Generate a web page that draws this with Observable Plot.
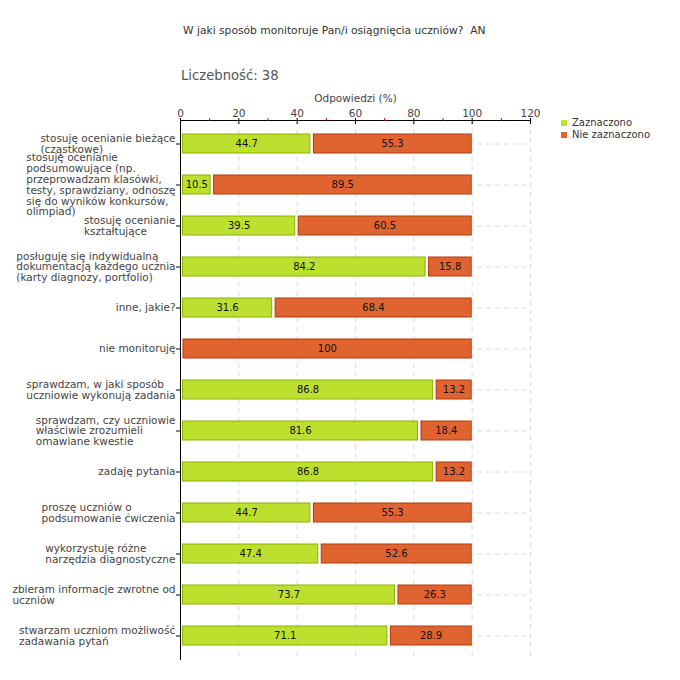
<!DOCTYPE html>
<html>
<head>
<meta charset="utf-8">
<script src="https://cdn.jsdelivr.net/npm/d3@7"></script>
<script src="https://cdn.jsdelivr.net/npm/@observablehq/plot@0.6"></script>
<style>
  body { margin: 0; background: #fff; font-family: "DejaVu Sans", sans-serif; }
  #wrap { position: relative; width: 680px; height: 680px; overflow: hidden; }
  #chart { position: absolute; left: 0; top: 0; }
  .title { position: absolute; left: 183px; top: 24px; font-size: 10.7px; color: #333; white-space: nowrap; }
  .count { position: absolute; left: 181px; top: 68px; font-size: 13.2px; color: #555; white-space: nowrap; }
  .legend { position: absolute; left: 561px; top: 117px; font-size: 10px; color: #333; }
  .legend div { height: 12px; line-height: 12px; white-space: nowrap; }
  .legend span.sw { display: inline-block; width: 6px; height: 6px; margin-right: 5px; vertical-align: 0px; }
</style>
</head>
<body>
<div id="wrap">
  <div id="chart"></div>
  <div class="title">W jaki sposób monitoruje Pan/i osiągnięcia uczniów?&nbsp; AN</div>
  <div class="count">Liczebność:&nbsp;38</div>
  <div class="legend" id="legend"></div>
</div>
<script>
const categories = [
  "stosuję ocenianie bieżące\n(cząstkowe)",
  "stosuję ocenianie\npodsumowujące (np.\nprzeprowadzam klasówki,\ntesty, sprawdziany, odnoszę\nsię do wyników konkursów,\nolimpiad)",
  "stosuję ocenianie\nkształtujące",
  "posługuję się indywidualną\ndokumentacją każdego ucznia\n(karty diagnozy, portfolio)",
  "inne, jakie?",
  "nie monitoruję",
  "sprawdzam, w jaki sposób\nuczniowie wykonują zadania",
  "sprawdzam, czy uczniowie\nwłaściwie zrozumieli\nomawiane kwestie",
  "zadaję pytania",
  "proszę uczniów o\npodsumowanie ćwiczenia",
  "wykorzystuję różne\nnarzędzia diagnostyczne",
  "zbieram informacje zwrotne od\nuczniów",
  "stwarzam uczniom możliwość\nzadawania pytań"
];
const zaznaczono =    [44.7, 10.5, 39.5, 84.2, 31.6, 0, 86.8, 81.6, 86.8, 44.7, 47.4, 73.7, 71.1];
const nieZaznaczono = [55.3, 89.5, 60.5, 15.8, 68.4, 100, 13.2, 18.4, 13.2, 55.3, 52.6, 26.3, 28.9];
const seriesNames = ["Zaznaczono", "Nie zaznaczono"];
const seriesFill = ["#bde02f", "#e06430"];
const seriesStroke = ["#8db000", "#b03a0c"];
const xTicks = [0, 20, 40, 60, 80, 100, 120];
const xMinorTicks = [10, 30, 50, 70, 90, 110];
const axisTitle = "Odpowiedzi (%)";

const greenRows = categories.map((c, i) => ({cat: c, x1: 0, x2: zaznaczono[i], v: zaznaczono[i]}));
const orangeRows = categories.map((c, i) => ({cat: c, x1: zaznaczono[i], x2: zaznaczono[i] + nieZaznaczono[i], v: nieZaznaczono[i]}));
const fmt = v => (Number.isInteger(v) ? String(v) : v.toFixed(1));

const chart = Plot.plot({
  width: 680,
  height: 680,
  marginLeft: 180,
  marginRight: 150,
  marginTop: 120,
  marginBottom: 20,
  style: {fontFamily: "DejaVu Sans", fontSize: "10px", color: "#333", background: "transparent", overflow: "visible"},
  x: {domain: [0, 120]},
  y: {domain: categories, paddingInner: 0.53, paddingOuter: 0.265},
  marks: [
    Plot.ruleX(xTicks.slice(1), {stroke: "#dcdcdc", strokeDasharray: "5,4"}),
    Plot.ruleY(categories, {y: d => d, stroke: "#dcdcdc", strokeDasharray: "5,4"}),
    Plot.barX(greenRows.filter(d => d.v > 0), {x1: "x1", x2: "x2", y: "cat", fill: seriesFill[0], stroke: seriesStroke[0], strokeWidth: 1, insetLeft: 2.5, insetRight: 0.5}),
    Plot.barX(orangeRows, {x1: "x1", x2: "x2", y: "cat", fill: seriesFill[1], stroke: seriesStroke[1], strokeWidth: 1, insetLeft: 3, insetRight: 0.5}),
    Plot.text(greenRows.filter(d => d.v > 0), {x: d => (d.x1 + d.x2) / 2, y: "cat", text: d => fmt(d.v), fill: "#111", fontSize: 10, dx: 1}),
    Plot.text(orangeRows.filter(d => d.v > 0), {x: d => (d.x1 + d.x2) / 2, y: "cat", text: d => fmt(d.v), fill: "#111", fontSize: 10, dx: 1}),
    Plot.ruleX([0], {stroke: "#000"}),
    Plot.frame({anchor: "top", stroke: "#000"}),
    Plot.axisX({anchor: "top", ticks: xTicks, tickSize: 0, tickPadding: 4, label: axisTitle, labelAnchor: "center", labelOffset: 26, labelArrow: "none", fill: "#444", fontSize: 10.5}),
    Plot.axisX({anchor: "top", ticks: xTicks, tickSize: 6, dy: 3, tickFormat: () => "", label: null, stroke: "#000"}),
    Plot.axisX({anchor: "top", ticks: xMinorTicks, tickSize: 3, tickFormat: () => "", label: null, stroke: "#e00000"}),
    Plot.axisY({anchor: "left", tickSize: 4, tickFormat: () => "", label: null, stroke: "#000"}),
    Plot.text(categories, {y: d => d, text: d => d, frameAnchor: "left", textAnchor: "start", lineHeight: 1.03, fontSize: 10.5, fill: "#444", className: "catlabel"})
  ]
});
document.getElementById("chart").appendChild(chart);

// Right-edge the category label blocks against the tick marks while keeping lines left-aligned
chart.querySelectorAll("g.catlabel text").forEach(t => {
  const bb = t.getBBox();
  t.setAttribute("transform", (t.getAttribute("transform") || "") + ` translate(${-bb.width - 5},0)`);
});

const legend = document.getElementById("legend");
seriesNames.forEach((name, i) => {
  const row = document.createElement("div");
  const sw = document.createElement("span");
  sw.className = "sw";
  sw.style.background = seriesFill[i];
  row.appendChild(sw);
  row.appendChild(document.createTextNode(name));
  legend.appendChild(row);
});
</script>
</body>
</html>
